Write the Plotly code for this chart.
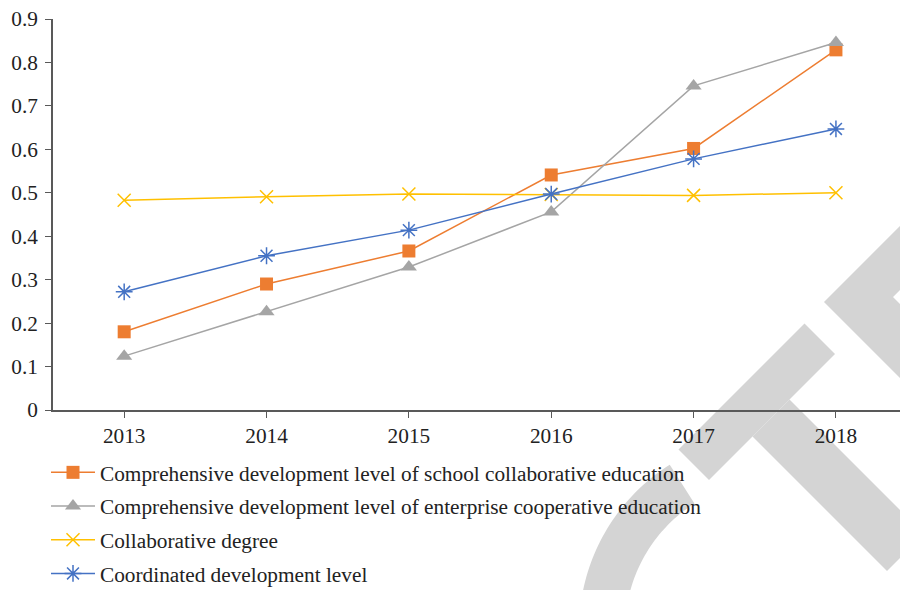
import math
import plotly.graph_objects as go

years = ["2013", "2014", "2015", "2016", "2017", "2018"]
school = [0.180, 0.290, 0.366, 0.541, 0.602, 0.829]
enterprise = [0.124, 0.226, 0.329, 0.456, 0.746, 0.846]
collab_degree = [0.483, 0.491, 0.497, 0.496, 0.494, 0.500]
coordinated = [0.272, 0.355, 0.414, 0.497, 0.578, 0.647]

names = [
    "Comprehensive development level of school collaborative education",
    "Comprehensive development level of enterprise cooperative education",
    "Collaborative degree",
    "Coordinated development level",
]

FONT = "Liberation Serif"
FS = 21.3
W, H = 900, 590
L, R, T, B = 53, 0, 19, 180

fig = go.Figure()
specs = [
    (school, "#ED7D31", "square", 13, 0),
    (enterprise, "#A5A5A5", "triangle-up", 14, 0),
    (collab_degree, "#FFC000", "x-thin-open", 13, 1.5),
    (coordinated, "#4472C4", "asterisk-open", 14, 1.5),
]
for i, (vals, col, sym, sz, lw) in enumerate(specs):
    fig.add_trace(go.Scatter(
        x=years, y=vals, name=names[i], mode="lines+markers",
        legendgroup=f"g{i}",
        line=dict(color=col, width=1.5),
        marker=dict(symbol=sym, size=sz, color=col,
                    line=dict(color=col, width=lw)),
    ))

# watermark (decorative), defined in pixel space and mapped to paper coords
def px2paper(px, py):
    return ((px - L) / (W - L - R), (H - B - py) / (H - T - B))

def path_from(pts):
    s = ""
    for k, (px, py) in enumerate(pts):
        x, y = px2paper(px, py)
        s += ("M" if k == 0 else "L") + f"{x:.5f},{y:.5f} "
    return s + "Z"

def diag(s, d):
    # s = x+y, d = x-y
    return ((s + d) / 2, (s - d) / 2)

crossbar = [diag(1128, 229), diag(1128, 481), diag(1189, 481), diag(1189, 229)]
stem = [diag(1189, 316), diag(1189, 390), diag(1458, 390), diag(1458, 316)]
corner = [(824, 302), (900, 226), (900, 290), (893, 297), (900, 304), (900, 378)]

cx, cy = 775, 630
ro, ri = 196, 150
a0 = math.atan2(465 - cy, 670 - cx)
a1 = math.radians(-178)
outer, inner = [], []
n = 40
for k in range(n + 1):
    a = a0 + (a1 - a0) * k / n
    outer.append((cx + ro * math.cos(a), cy + ro * math.sin(a)))
    inner.append((cx + ri * math.cos(a), cy + ri * math.sin(a)))
cshape = outer + inner[::-1]

for pts in (crossbar, stem, corner, cshape):
    fig.add_shape(type="path", path=path_from(pts), xref="paper", yref="paper",
                  fillcolor="#D4D4D4", line=dict(width=0), layer="below")

fig.update_layout(
    width=W, height=H,
    margin=dict(l=L, r=R, t=T, b=B, autoexpand=False),
    paper_bgcolor="white", plot_bgcolor="white",
    font=dict(family=FONT, size=FS, color="#222222"),
    showlegend=True,
    legend=dict(
        x=46 / W, xref="container", xanchor="left",
        y=1 - 452 / H, yref="container", yanchor="top",
        traceorder="grouped", tracegroupgap=3,
        font=dict(family=FONT, size=FS, color="#222222"),
        itemwidth=44, bgcolor="rgba(0,0,0,0)",
    ),
    xaxis=dict(
        type="category", range=[-0.5, 5.45],
        showline=True, linecolor="#595959", linewidth=1.5,
        ticks="outside", ticklen=6, tickcolor="#595959", tickwidth=1.2,
        showgrid=False, zeroline=False, ticklabelstandoff=0, tickangle=0,
    ),
    yaxis=dict(
        range=[0, 0.9], dtick=0.1, tick0=0,
        showline=True, linecolor="#595959", linewidth=1.5,
        ticks="outside", ticklen=6, tickcolor="#595959", tickwidth=1.2,
        showgrid=False, zeroline=False, ticklabelstandoff=3,
        tickformat="~g",
    ),
)

fig.write_html("out.html")
